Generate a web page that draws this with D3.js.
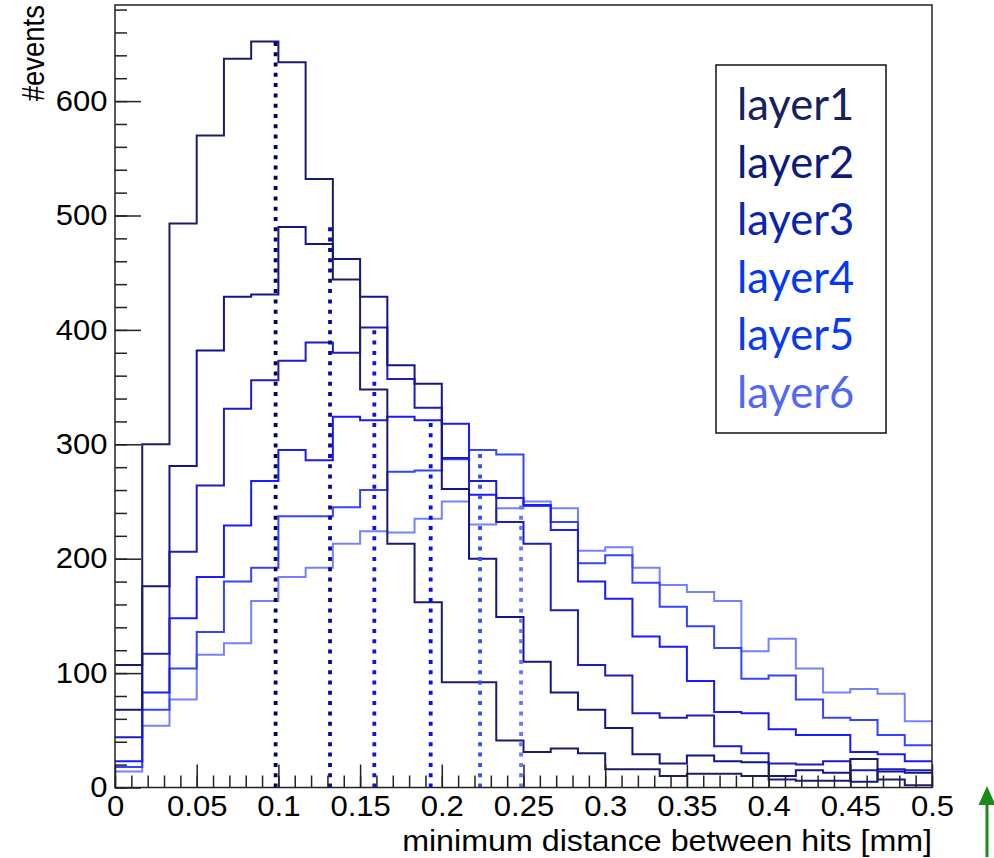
<!DOCTYPE html>
<html>
<head>
<meta charset="utf-8">
<script src="https://cdn.jsdelivr.net/npm/d3@7"></script>
<style>
  body { margin: 0; background: #fff; }
  svg { display: block; }
</style>
</head>
<body>
<div id="chart"></div>
<script>
// histogram contents, 30 bins of 1/60 mm from 0 to 0.5 mm
const layer1 = [107, 300, 493, 570, 637, 652, 634, 532, 444, 348, 213, 162, 92, 92, 41, 31, 34, 30, 16, 16, 10, 12, 12, 10, 7, 6, 6, 25, 7, 2]
const layer2 = [68, 176, 281, 382, 429, 431, 490, 475, 462, 429, 369, 353, 261, 200, 149, 110, 83, 68, 52, 29, 21, 28, 23, 22, 10, 15, 13, 5, 14, 13]
const layer3 = [44, 117, 206, 264, 331, 356, 373, 389, 380, 402, 357, 332, 288, 268, 232, 213, 155, 107, 98, 65, 61, 63, 36, 30, 21, 20, 23, 15, 16, 15]
const layer4 = [23, 83, 148, 184, 229, 268, 295, 286, 324, 321, 324, 321, 318, 256, 253, 247, 225, 180, 165, 132, 123, 93, 66, 65, 51, 46, 46, 31, 29, 23]
const layer5 = [18, 68, 104, 136, 180, 192, 237, 237, 245, 260, 276, 277, 287, 295, 291, 246, 232, 196, 203, 179, 158, 141, 122, 95, 98, 77, 61, 59, 46, 37]
const layer6 = [14, 54, 77, 116, 126, 163, 184, 192, 213, 224, 223, 235, 250, 230, 244, 250, 244, 207, 210, 192, 177, 171, 163, 119, 130, 104, 83, 86, 82, 58]

const layerNames = ["layer1", "layer2", "layer3", "layer4", "layer5", "layer6"]
const layerMeans = [0.0983, 0.1316, 0.1587, 0.1932, 0.2234, 0.2485] // dotted lines

const lineColors = ["#1c1c6c", "#14148e", "#1d1dc2", "#1a1aff", "#3444ff", "#7582ff"]
const dotColors = ["#000066", "#0808a0", "#1414d4", "#0a0aff", "#3050ff", "#6677ff"]
const textColors = ["#16215f", "#0b1a7c", "#0a26b0", "#0436f5", "#0a3af0", "#5068f5"]

const xTicks = [0, 0.05, 0.1, 0.15, 0.2, 0.25, 0.3, 0.35, 0.4, 0.45, 0.5]
const yTicks = [0, 100, 200, 300, 400, 500, 600]

const xRange = [0, 0.5]
const nBins = 30
const yMax = 684

const width = 994
const height = 858
const margin = ({top: 5, right: 62, bottom: 70.5, left: 115})
const axisFont = "'Liberation Sans', Arial, sans-serif"

const svg = d3.select("#chart").append("svg")
  .attr("width", width)
  .attr("height", height)
  .attr("viewBox", [0, 0, width, height])

const x = d3.scaleLinear()
  .domain(xRange)
  .range([margin.left, width - margin.right])

const y = d3.scaleLinear()
  .domain([0, yMax])
  .range([height - margin.bottom, margin.top])

const binWidth = (xRange[1] - xRange[0]) / nBins

// step outline of one histogram
const step = d3.line()
  .x(d => x(d[0]))
  .y(d => y(d[1]))
  .curve(d3.curveStepAfter)

function histPoints(values) {
  let pts = values.map((v, i) => [xRange[0] + i * binWidth, v])
  pts.push([xRange[1], values[values.length - 1]])
  return pts
}

const layers = [layer1, layer2, layer3, layer4, layer5, layer6]

// histograms, last layer first so the dark ones sit on top
const hist = svg.append("g").attr("fill", "none")
layers.slice().reverse().forEach((vals, j) => {
  let i = layers.length - 1 - j
  hist.append("path")
    .attr("d", step(histPoints(vals)))
    .attr("stroke", lineColors[i])
    .attr("stroke-width", 2)
})

// dotted lines at the mean, up to the histogram maximum
svg.append("g").selectAll("line")
  .data(layers)
  .join("line")
    .attr("x1", (d, i) => x(layerMeans[i]))
    .attr("x2", (d, i) => x(layerMeans[i]))
    .attr("y1", y(0))
    .attr("y2", d => y(d3.max(d)))
    .attr("stroke", (d, i) => dotColors[i])
    .attr("stroke-width", 3.8)
    .attr("stroke-dasharray", "4 6.3")

// axes, ticks pointing into the frame
const xAxis = g => g
  .attr("transform", `translate(0,${y(0)})`)
  .call(d3.axisBottom(x).tickValues(xTicks).tickSize(-23).tickPadding(8).tickFormat(d3.format("~g")))
  .call(g => g.select(".domain").remove())

const xMinor = g => g
  .attr("transform", `translate(0,${y(0)})`)
  .call(d3.axisBottom(x).tickValues(d3.range(0, 51).map(k => k / 100)).tickSize(-12).tickFormat(""))
  .call(g => g.select(".domain").remove())

const yAxis = g => g
  .attr("transform", `translate(${x(0)},0)`)
  .call(d3.axisLeft(y).tickValues(yTicks).tickSize(-26).tickPadding(7))
  .call(g => g.select(".domain").remove())

const yMinor = g => g
  .attr("transform", `translate(${x(0)},0)`)
  .call(d3.axisLeft(y).tickValues(d3.range(0, 681, 20)).tickSize(-12).tickFormat(""))
  .call(g => g.select(".domain").remove())

svg.append("g").call(xMinor)
svg.append("g").call(yMinor)
svg.append("g").attr("class", "xaxis").call(xAxis)
svg.append("g").attr("class", "yaxis").call(yAxis)

svg.selectAll(".tick line").attr("stroke", "#222").attr("stroke-width", 1.5)
svg.selectAll(".xaxis text, .yaxis text")
  .attr("font-family", axisFont)
  .attr("font-size", 29)
  .attr("fill", "#000")
  .attr("transform", "scale(1.07,1)")

// frame
svg.append("rect")
  .attr("x", x(0))
  .attr("y", y(yMax))
  .attr("width", x(xRange[1]) - x(0))
  .attr("height", y(0) - y(yMax))
  .attr("fill", "none")
  .attr("stroke", "#222")
  .attr("stroke-width", 1.5)

// axis titles
svg.append("text")
  .attr("transform", `translate(${x(xRange[1])},851) scale(1.1,1)`)
  .attr("text-anchor", "end")
  .attr("font-family", axisFont)
  .attr("font-size", 29.3)
  .attr("fill", "#000")
  .text("minimum distance between hits [mm]")

svg.append("text")
  .attr("transform", "translate(44,5) scale(1.12,1) rotate(-90)")
  .attr("text-anchor", "end")
  .attr("font-family", axisFont)
  .attr("font-size", 27.5)
  .attr("fill", "#000")
  .text("#events")

// legend box
const legend = svg.append("g")
legend.append("rect")
  .attr("x", 716)
  .attr("y", 65)
  .attr("width", 170)
  .attr("height", 368)
  .attr("fill", "#fff")
  .attr("stroke", "#111")
  .attr("stroke-width", 1.5)

legend.selectAll("text")
  .data(layerNames)
  .join("text")
    .attr("x", 737)
    .attr("y", (d, i) => 120 + i * 57.6)
    .attr("font-family", "Lato, 'Open Sans', sans-serif")
    .attr("font-size", 43.5)
    .attr("fill", (d, i) => textColors[i])
    .text(d => d)

// green arrow in the corner
const arrow = svg.append("g").attr("fill", "#1a8a1a")
arrow.append("rect")
  .attr("x", 985.5).attr("y", 800)
  .attr("width", 3).attr("height", 57)
arrow.append("path")
  .attr("d", "M987,786 L995.5,805 L978.5,805 Z")
</script>
</body>
</html>
